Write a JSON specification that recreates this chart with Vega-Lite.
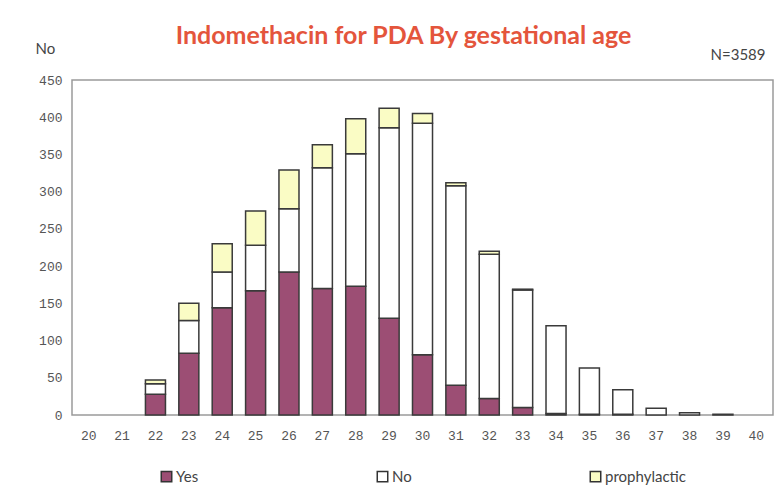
{
  "$schema": "https://vega.github.io/schema/vega-lite/v6.json",
  "width": 701,
  "height": 335,
  "autosize": {"type": "none"},
  "padding": {"left": 72, "top": 80, "right": 6, "bottom": 87},
  "background": "white",
  "title": {
    "text": "Indomethacin for PDA By gestational age",
    "anchor": "middle",
    "dx": -19,
    "offset": -8,
    "font": "Lato",
    "fontSize": 25,
    "fontWeight": "bold",
    "color": "#e4553c"
  },
  "config": {
    "view": {"stroke": "#9a9a9a", "strokeWidth": 1.5},
    "axis": {"grid": false}
  },
  "data": {
    "values": [
      {"age": 22, "status": "Yes", "count": 28, "ord": 1},
      {"age": 22, "status": "No", "count": 14, "ord": 2},
      {"age": 22, "status": "prophylactic", "count": 5, "ord": 3},
      {"age": 23, "status": "Yes", "count": 83, "ord": 1},
      {"age": 23, "status": "No", "count": 44, "ord": 2},
      {"age": 23, "status": "prophylactic", "count": 23, "ord": 3},
      {"age": 24, "status": "Yes", "count": 144, "ord": 1},
      {"age": 24, "status": "No", "count": 48, "ord": 2},
      {"age": 24, "status": "prophylactic", "count": 38, "ord": 3},
      {"age": 25, "status": "Yes", "count": 167, "ord": 1},
      {"age": 25, "status": "No", "count": 61, "ord": 2},
      {"age": 25, "status": "prophylactic", "count": 46, "ord": 3},
      {"age": 26, "status": "Yes", "count": 192, "ord": 1},
      {"age": 26, "status": "No", "count": 85, "ord": 2},
      {"age": 26, "status": "prophylactic", "count": 52, "ord": 3},
      {"age": 27, "status": "Yes", "count": 170, "ord": 1},
      {"age": 27, "status": "No", "count": 162, "ord": 2},
      {"age": 27, "status": "prophylactic", "count": 31, "ord": 3},
      {"age": 28, "status": "Yes", "count": 173, "ord": 1},
      {"age": 28, "status": "No", "count": 178, "ord": 2},
      {"age": 28, "status": "prophylactic", "count": 47, "ord": 3},
      {"age": 29, "status": "Yes", "count": 130, "ord": 1},
      {"age": 29, "status": "No", "count": 256, "ord": 2},
      {"age": 29, "status": "prophylactic", "count": 26, "ord": 3},
      {"age": 30, "status": "Yes", "count": 81, "ord": 1},
      {"age": 30, "status": "No", "count": 311, "ord": 2},
      {"age": 30, "status": "prophylactic", "count": 13, "ord": 3},
      {"age": 31, "status": "Yes", "count": 40, "ord": 1},
      {"age": 31, "status": "No", "count": 268, "ord": 2},
      {"age": 31, "status": "prophylactic", "count": 4, "ord": 3},
      {"age": 32, "status": "Yes", "count": 22, "ord": 1},
      {"age": 32, "status": "No", "count": 194, "ord": 2},
      {"age": 32, "status": "prophylactic", "count": 4, "ord": 3},
      {"age": 33, "status": "Yes", "count": 10, "ord": 1},
      {"age": 33, "status": "No", "count": 158, "ord": 2},
      {"age": 33, "status": "prophylactic", "count": 1, "ord": 3},
      {"age": 34, "status": "Yes", "count": 2, "ord": 1},
      {"age": 34, "status": "No", "count": 118, "ord": 2},
      {"age": 35, "status": "Yes", "count": 1, "ord": 1},
      {"age": 35, "status": "No", "count": 62, "ord": 2},
      {"age": 36, "status": "Yes", "count": 1, "ord": 1},
      {"age": 36, "status": "No", "count": 33, "ord": 2},
      {"age": 37, "status": "No", "count": 9, "ord": 2},
      {"age": 38, "status": "No", "count": 3, "ord": 2},
      {"age": 39, "status": "Yes", "count": 1, "ord": 1}
    ]
  },
  "layer": [
    {
      "mark": {"type": "bar", "stroke": "#3a3a3a", "strokeWidth": 1.5},
      "encoding": {
        "x": {
          "field": "age",
          "type": "ordinal",
          "scale": {"domain": [20,21,22,23,24,25,26,27,28,29,30,31,32,33,34,35,36,37,38,39,40], "paddingInner": 0.4, "paddingOuter": 0.2},
          "axis": {
            "title": null,
            "labelAngle": 0,
            "labelFont": "Liberation Mono",
            "labelFontSize": 13,
            "labelColor": "#555555",
            "labelPadding": 14,
            "ticks": false,
            "domain": false
          }
        },
        "y": {
          "field": "count",
          "type": "quantitative",
          "stack": "zero",
          "scale": {"domain": [0, 450], "nice": false},
          "axis": {
            "values": [0,50,100,150,200,250,300,350,400,450],
            "title": "No",
            "titleAngle": 0,
            "titleX": -37,
            "titleY": -27,
            "titleAlign": "left",
            "titleBaseline": "alphabetic",
            "titleFont": "Lato",
            "titleFontSize": 15,
            "titleFontWeight": "normal",
            "titleColor": "#444444",
            "labelFont": "Liberation Mono",
            "labelFontSize": 13,
            "labelColor": "#555555",
            "labelPadding": 10,
            "ticks": false,
            "domain": false
          }
        },
        "color": {
          "field": "status",
          "type": "nominal",
          "scale": {"domain": ["Yes", "No", "prophylactic"], "range": ["#9c4e74", "#ffffff", "#fafcc5"]},
          "legend": {
            "title": null,
            "orient": "none",
            "legendX": 87,
            "legendY": 389,
            "direction": "horizontal",
            "columns": 3,
            "columnPadding": 175,
            "symbolType": "square",
            "symbolSize": 110,
            "symbolStrokeColor": "#333333",
            "symbolStrokeWidth": 1.5,
            "symbolOpacity": 1,
            "labelFont": "Lato",
            "labelFontSize": 15,
            "labelColor": "#444444",
            "labelOffset": 2
          }
        },
        "order": {"field": "ord", "type": "quantitative"}
      }
    },
    {
      "mark": {"type": "rule", "opacity": 0},
      "encoding": {
        "y": {
          "datum": 0,
          "type": "quantitative",
          "scale": {"domain": [0, 450], "nice": false},
          "axis": {
            "orient": "right",
            "title": "N=3589",
            "titleAngle": 0,
            "titleX": -8,
            "titleY": -21,
            "titleAlign": "right",
            "titleBaseline": "alphabetic",
            "titleFont": "Lato",
            "titleFontSize": 15,
            "titleFontWeight": "normal",
            "titleColor": "#444444",
            "labels": false,
            "ticks": false,
            "domain": false
          }
        }
      }
    }
  ],
  "resolve": {"scale": {"y": "independent"}, "axis": {"y": "independent"}}
}
